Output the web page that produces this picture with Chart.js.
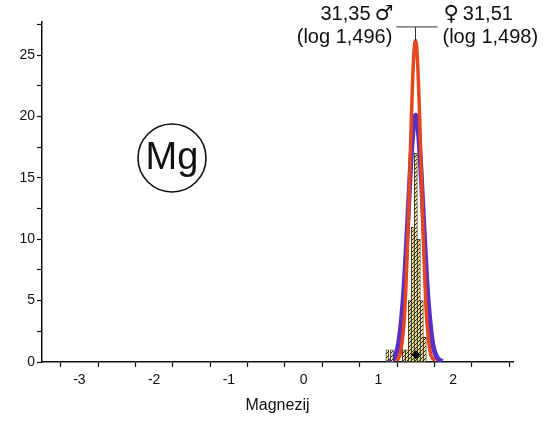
<!DOCTYPE html>
<html>
<head>
<meta charset="utf-8">
<script src="https://cdn.jsdelivr.net/npm/chart.js@4/dist/chart.umd.min.js"></script>
<style>
  html, body { margin: 0; padding: 0; background: #fff; }
  #wrap { width: 550px; height: 421px; }
</style>
</head>
<body>
<div id="wrap"><canvas id="magnezij" width="550" height="421"></canvas></div>
<script>
// histogram (log values)
const binCenters = [1.12, 1.18, 1.34, 1.38, 1.42, 1.46, 1.50, 1.54, 1.58, 1.62];
const binCounts  = [1, 1, 1, 1, 5, 11, 17, 10, 5, 2];

// fitted curve, men (red)
const maleX = [1.25, 1.30, 1.35, 1.40, 1.44, 1.47, 1.496, 1.52, 1.55, 1.59, 1.64, 1.69, 1.75];
const maleY = [0.1, 0.9, 3.9, 11.5, 19.8, 24.7, 26.2, 24.9, 20.2, 11.9, 4.1, 0.9, 0.1];

// fitted curve, women (purple)
const femaleX = [1.15, 1.22, 1.28, 1.34, 1.39, 1.43, 1.47, 1.498, 1.53, 1.57, 1.61, 1.66, 1.72, 1.78, 1.85];
const femaleY = [0.05, 0.4, 1.9, 5.8, 11.2, 16.0, 19.3, 20.1, 19.1, 15.5, 10.7, 5.4, 1.7, 0.4, 0.05];

const meanMarker = [{ x: 1.5, y: 0.6 }];

const maleValue = "31,35", maleSign = "\u2642", maleLog = "(log 1,496)";
const femaleValue = "31,51", femaleSign = "\u2640", femaleLog = "(log 1,498)";
const maleMean = 1.496;
const bracketFrom = 1.24, bracketTo = 1.79, bracketY = 27.3, maleTop = 26.2;

const xTicksMin = -3.5, xTicksMax = 2.8;
const yTicksMin = 0, yTicksMax = 27.7;

const FONT = "'Liberation Sans', Arial, Helvetica, sans-serif";
const SYMBOL_FONT = "'DejaVu Sans', sans-serif";

function hatch() {
  const c = document.createElement("canvas");
  c.width = 4; c.height = 4;
  const g = c.getContext("2d");
  g.fillStyle = "#f3e48a";
  g.fillRect(0, 0, 4, 4);
  g.strokeStyle = "#222";
  g.lineWidth = 1;
  g.beginPath();
  g.moveTo(0, 4); g.lineTo(4, 0);
  g.stroke();
  return g.createPattern(c, "repeat");
}

const zip = (xs, ys) => xs.map((v, i) => ({ x: v, y: ys[i] }));

const extras = {
  id: "extras",
  afterDraw(chart) {
    const { ctx, scales: { x, y } } = chart;
    ctx.save();
    // bracket over the peak
    const bx0 = x.getPixelForValue(bracketFrom), bx1 = x.getPixelForValue(bracketTo);
    const by = y.getPixelForValue(bracketY);
    const mx = x.getPixelForValue(maleMean);
    ctx.strokeStyle = "#333";
    ctx.lineWidth = 1;
    ctx.beginPath();
    ctx.moveTo(bx0, by); ctx.lineTo(bx1, by);
    ctx.moveTo(mx, by); ctx.lineTo(mx, y.getPixelForValue(maleTop));
    ctx.stroke();

    ctx.fillStyle = "#111";
    ctx.textBaseline = "middle";
    const top = by - 12, bottom = by + 11;
    const txtFont = "20px " + FONT, symFont = "21px " + SYMBOL_FONT;

    // male, right aligned to bracket start
    ctx.font = symFont;
    const mSignW = ctx.measureText(maleSign).width;
    ctx.textAlign = "right";
    ctx.fillText(maleSign, bx0 - 3, top);
    ctx.font = txtFont;
    ctx.fillText(maleValue, bx0 - 3 - mSignW - 4, top);
    ctx.fillText(maleLog, bx0 - 4, bottom);

    // female, left aligned after bracket end
    ctx.textAlign = "left";
    ctx.font = symFont;
    const fSignW = ctx.measureText(femaleSign).width;
    ctx.fillText(femaleSign, bx1 + 6, top);
    ctx.font = txtFont;
    ctx.fillText(femaleValue, bx1 + 6 + fSignW + 4, top);
    ctx.fillText(femaleLog, bx1 + 5, bottom);

    // element badge
    ctx.beginPath();
    ctx.arc(172, 158, 34, 0, Math.PI * 2);
    ctx.lineWidth = 1.6;
    ctx.strokeStyle = "#111";
    ctx.stroke();
    ctx.font = "38px " + FONT;
    ctx.textAlign = "center";
    ctx.fillText("Mg", 172, 159);
    ctx.restore();
  }
};

var ctx = document.getElementById("magnezij").getContext("2d");
var myChart = new Chart(ctx, {
  type: "bar",
  data: {
    datasets: [
      {
        type: "scatter",
        data: meanMarker,
        pointStyle: "rectRot",
        pointRadius: 4,
        backgroundColor: "#000",
        borderColor: "#000",
        order: -1,
      },
      {
        type: "bar",
        data: zip(binCenters, binCounts),
        backgroundColor: hatch(),
        borderColor: "#222",
        borderWidth: 0.8,
        barPercentage: 1,
        categoryPercentage: 1,
        order: 0,
      },
      {
        type: "line",
        data: zip(maleX, maleY),
        borderColor: "#e5461f",
        borderWidth: 3.5,
        pointRadius: 0,
        cubicInterpolationMode: "monotone",
        fill: false,
        order: 1,
      },
      {
        type: "line",
        data: zip(femaleX, femaleY),
        borderColor: "#5a2fc4",
        borderWidth: 5,
        pointRadius: 0,
        cubicInterpolationMode: "monotone",
        fill: false,
        order: 2,
      },
    ],
  },
  options: {
    responsive: false,
    devicePixelRatio: 1,
    animation: false,
    layout: { padding: { top: 22, right: 37, left: 0, bottom: 0 } },
    plugins: { legend: { display: false }, tooltip: { enabled: false } },
    scales: {
      x: {
        type: "linear",
        min: xTicksMin,
        max: xTicksMax,
        offset: false,
        afterFit: (s) => { s.height = 59; },
        border: { color: "#111", width: 1.5 },
        grid: { drawOnChartArea: false, drawTicks: true, tickLength: 5, tickColor: "#111", tickWidth: 1.2 },
        ticks: {
          stepSize: 0.5,
          includeBounds: false,
          padding: 5,
          color: "#111",
          font: { family: FONT, size: 14 },
          maxRotation: 0,
          autoSkip: false,
          callback: (v) => (Number.isInteger(v) ? String(v) : ""),
        },
        title: {
          display: true,
          text: "Magnezij",
          color: "#111",
          font: { family: FONT, size: 16 },
          padding: { top: 0, bottom: 6 },
        },
      },
      y: {
        min: yTicksMin,
        max: yTicksMax,
        afterFit: (s) => { s.width = 42; },
        border: { color: "#111", width: 1.5 },
        grid: { drawOnChartArea: false, drawTicks: true, tickLength: 5, tickColor: "#111", tickWidth: 1.2 },
        ticks: {
          stepSize: 2.5,
          includeBounds: false,
          padding: 2,
          color: "#111",
          font: { family: FONT, size: 14 },
          autoSkip: false,
          callback: (v) => (v % 5 === 0 ? String(v) : ""),
        },
      },
    },
  },
  plugins: [extras],
});
</script>
</body>
</html>
